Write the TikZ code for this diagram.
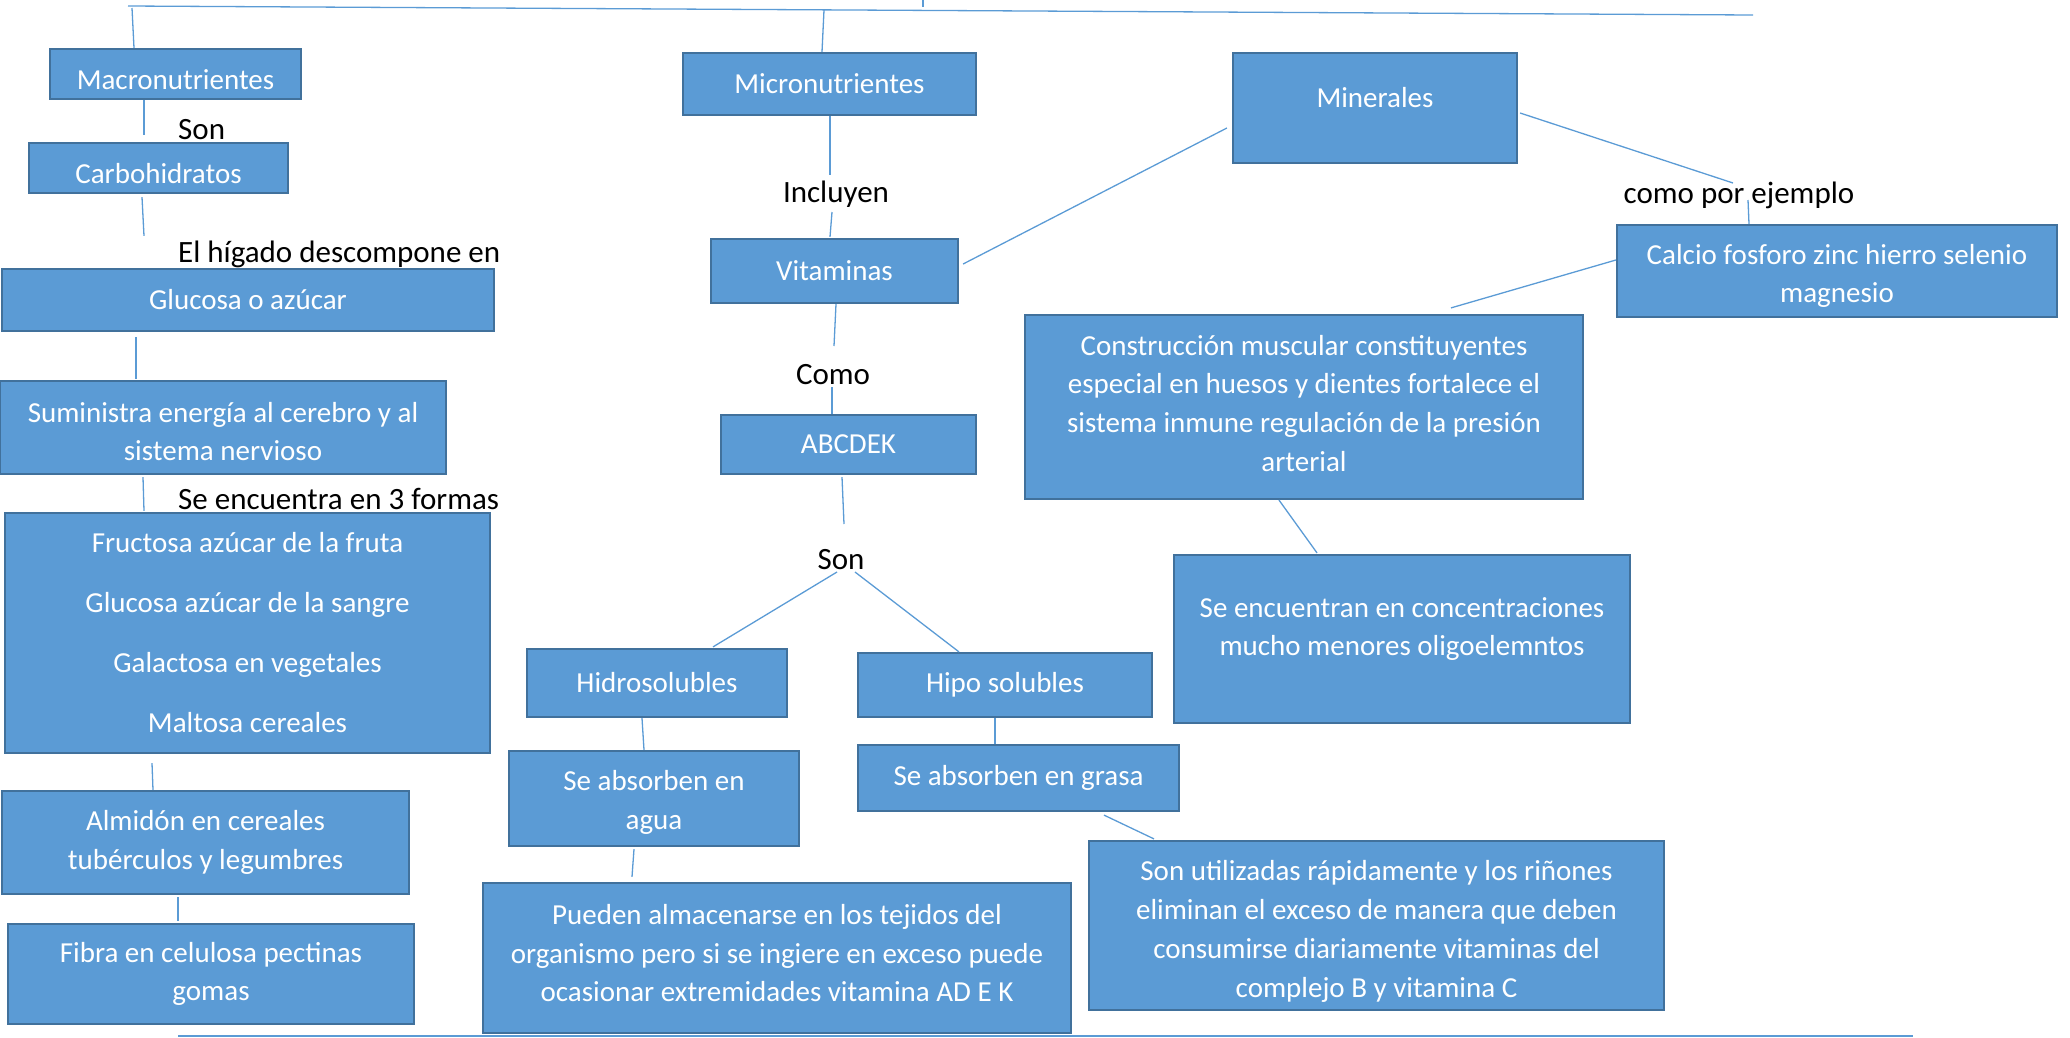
\documentclass[tikz,border=0pt]{standalone}
\usepackage{fontspec}
\setmainfont{Carlito}
\usetikzlibrary{calc}
\definecolor{azulcaja}{HTML}{5B9BD5}
\definecolor{bordecaja}{HTML}{41719C}
\definecolor{azullinea}{HTML}{5B9BD5}

\begin{document}
\begin{tikzpicture}[x=1pt, y=-1pt,
	caja/.style={draw=bordecaja, fill=azulcaja, text=white, line width=2.2pt, inner sep=0pt, align=center, font=\fontsize{29}{38.7}\selectfont},
	etiqueta/.style={inner sep=0pt, text=black, font=\fontsize{31}{36}\selectfont},
	linea/.style={draw=azullinea, line width=1.3pt}]
	\useasboundingbox (0,0) rectangle (2070,1037);

	% Macronutrientes
	\node[caja, minimum width=251pt, minimum height=50pt] (macro) at (175.5,74) {\rule{0pt}{31pt}Macronutrientes};
	\node[caja, minimum width=259pt, minimum height=50pt] (carbo) at (158.5,168) {\rule{0pt}{31pt}Carbohidratos};
	\node[caja, minimum width=492pt, minimum height=62pt] (glucosa) at (248,300) {Glucosa o azúcar};
	\node[caja, minimum width=446pt, minimum height=93pt] (suministra) at (223,427.5) {\rule{0pt}{28pt}Suministra energía al cerebro y al\\sistema nervioso};
	\node[caja, minimum width=485pt, minimum height=240pt] (formas) at (247.5,633) {Fructosa azúcar de la fruta\\[21.3pt]Glucosa azúcar de la sangre\\[21.3pt]Galactosa en vegetales\\[21.3pt]Maltosa cereales};
	\node[caja, minimum width=407pt, minimum height=103pt] (almidon) at (205.5,842.5) {Almidón en cereales\\tubérculos y legumbres};
	\node[caja, minimum width=406pt, minimum height=100pt] (fibra) at (211,974) {Fibra en celulosa pectinas\\gomas};

	\node[etiqueta, anchor=west] (son) at (178,130) {Son};
	\node[etiqueta, anchor=west] (higado) at (178,254) {El hígado descompone en};
	\node[etiqueta, anchor=west] (tresformas) at (178,499) {Se encuentra en 3 formas};

	% Micronutrientes
	\node[caja, minimum width=293pt, minimum height=62pt] (micro) at (829.5,84) {Micronutrientes};
	\node[caja, minimum width=247pt, minimum height=64pt] (vitaminas) at (834.5,271) {Vitaminas};
	\node[caja, minimum width=255pt, minimum height=59pt] (abcdek) at (848.5,444.5) {ABCDEK};
	\node[caja, minimum width=260pt, minimum height=68pt] (hidro) at (657,683) {Hidrosolubles};
	\node[caja, minimum width=294pt, minimum height=64pt] (hipo) at (1005,685) {Hipo solubles};
	\node[caja, minimum width=290pt, minimum height=95pt] (agua) at (654,798.5) {\rule{0pt}{28pt}Se absorben en\\agua};
	\node[caja, minimum width=321pt, minimum height=66pt] (grasa) at (1018.5,778) {Se absorben en grasa};
	\node[caja, minimum width=588pt, minimum height=150pt] (pueden) at (777,958) {Pueden almacenarse en los tejidos del\\organismo pero si se ingiere en exceso puede\\ocasionar extremidades vitamina AD E K\\[-28.7pt]\mbox{}};
	\node[caja, minimum width=575pt, minimum height=169pt] (utilizadas) at (1376.5,925.5) {\rule{0pt}{32pt}Son utilizadas rápidamente y los riñones\\eliminan el exceso de manera que deben\\consumirse diariamente vitaminas del\\complejo B y vitamina C};

	\node[etiqueta] (incluyen) at (836,194) {Incluyen};
	\node[etiqueta] (como) at (833,375) {Como};
	\node[etiqueta] (sonvit) at (841,560) {Son};

	% Minerales
	\node[caja, minimum width=284pt, minimum height=110pt] (minerales) at (1375,108) {Minerales\\[-16.7pt]\mbox{}};
	\node[caja, minimum width=440pt, minimum height=92pt] (calcio) at (1837,271) {\rule{0pt}{30pt}Calcio fosforo zinc hierro selenio\\magnesio};
	\node[caja, minimum width=558pt, minimum height=184pt] (construccion) at (1304,407) {Construcción muscular constituyentes\\especial en huesos y dientes fortalece el\\sistema inmune regulación de la presión\\arterial\\[-30.7pt]\mbox{}};
	\node[caja, minimum width=456pt, minimum height=168pt] (encuentran) at (1402,639) {Se encuentran en concentraciones\\mucho menores oligoelemntos\\[-14pt]\mbox{}};

	\node[etiqueta] (ejemplo) at (1739,195) {como por ejemplo};

	% Lineas de arriba y abajo
	\coordinate (arribaI) at (128,6);
	\coordinate (arribaD) at (1753,15);
	\coordinate (arribaM) at (132,8);
	\coordinate (arribaU) at (824,10);
	\coordinate (marca) at (923,0);
	\coordinate (abajoI) at (178,1036);
	\coordinate (abajoD) at (1913,1036);
	\draw[linea] (arribaI) -- (arribaD);
	\draw[linea] (marca) -- ++(0,7);
	\draw[linea] (abajoI) -- (abajoD);
	\draw[linea] (arribaM) -- ($(macro.north)+(-41.5,0)$);
	\draw[linea] (arribaU) -- ($(micro.north)+(-7.5,0)$);

	% Conectores
	\draw[linea] ($(macro.south)+(-31.5,0)$) -- ($(carbo.north)+(-14.5,-7)$);
	\draw[linea] ($(carbo.south)+(-16.5,3)$) -- ($(glucosa.north)+(-104,-32)$);
	\draw[linea] ($(glucosa.south)+(-112,5)$) -- ($(suministra.north)+(-87,-1)$);
	\draw[linea] ($(suministra.south)+(-80,2)$) -- ($(formas.north)+(-103.5,-1)$);
	\draw[linea] ($(formas.south)+(-95.5,9)$) -- ($(almidon.north)+(-52.5,0)$);
	\draw[linea] ($(almidon.south)+(-27.5,2)$) -- ($(fibra.north)+(-33,-2)$);

	\draw[linea] ($(micro.south)+(0.5,0)$) -- ($(incluyen)+(-6,-19)$);
	\draw[linea] ($(incluyen)+(-4,18)$) -- ($(vitaminas.north)+(-4.5,-1)$);
	\draw[linea] ($(vitaminas.east)+(4,-7)$) -- ($(minerales.west)+(-5,20)$);
	\draw[linea] ($(vitaminas.south)+(1.5,0)$) -- ($(como)+(1,-29)$);
	\draw[linea] ($(como)+(-1,12)$) -- ($(abcdek.north)+(-16.5,0)$);
	\draw[linea] ($(abcdek.south)+(-6.5,2)$) -- ($(sonvit)+(3,-36)$);
	\draw[linea] ($(sonvit)+(-4,12)$) -- ($(hidro.north)+(56,-1)$);
	\draw[linea] ($(sonvit)+(14,12)$) -- ($(hipo.north)+(-46,0)$);
	\draw[linea] ($(hidro.south)+(-15,0)$) -- ($(agua.north)+(-10,0)$);
	\draw[linea] ($(agua.south)+(-20,2)$) -- ($(pueden.north)+(-145,-5)$);
	\draw[linea] ($(hipo.south)+(-10,0)$) -- ($(grasa.north)+(-23.5,0)$);
	\draw[linea] ($(grasa.south)+(85.5,3)$) -- ($(utilizadas.north)+(-222.5,-1)$);

	\draw[linea] ($(minerales.east)+(2,5)$) -- ($(ejemplo)+(-6,-12)$);
	\draw[linea] ($(ejemplo)+(9,5)$) -- ($(calcio.north)+(-88,0)$);
	\draw[linea] ($(calcio.west)+(0,-11)$) -- ($(construccion.north)+(147,-6)$);
	\draw[linea] ($(construccion.south)+(-25,0)$) -- ($(encuentran.north)+(-85,-1)$);
\end{tikzpicture}
\end{document}
